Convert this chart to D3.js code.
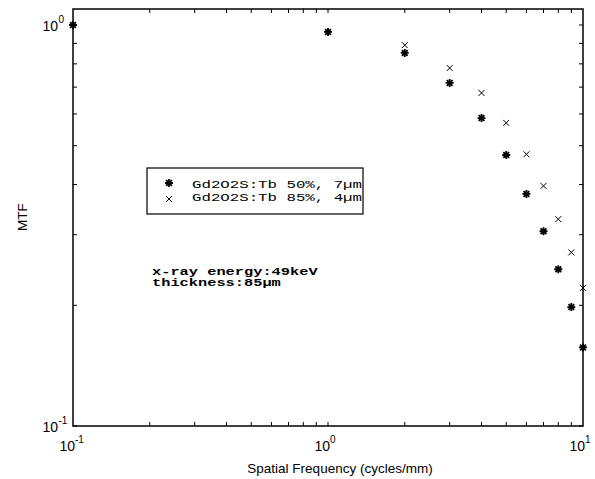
<!DOCTYPE html>
<html>
<head>
<meta charset="utf-8">
<script src="https://cdn.jsdelivr.net/npm/d3@7"></script>
<style>
  body { margin: 0; background: #fff; }
  text { font-family: "Liberation Sans", Arial, sans-serif; fill: #000; }
</style>
</head>
<body>
<div id="chart-area"></div>
<script>
/* MTF vs spatial frequency, log-log */

var freq = [0.1, 1, 2, 3, 4, 5, 6, 7, 8, 9, 10];
var mtf50 = [1.0, 0.961, 0.852, 0.717, 0.586, 0.474, 0.379, 0.306, 0.246, 0.198, 0.157];
var mtf85 = [1.0, 0.961, 0.891, 0.781, 0.677, 0.570, 0.476, 0.397, 0.328, 0.271, 0.221];
var seriesNames = ["Gd2O2S:Tb 50%, 7\u00b5m", "Gd2O2S:Tb 85%, 4\u00b5m"];
var xMajor = [0.1, 1, 10];
var xMajorExp = ["-1", "0", "1"];
var yMajor = [0.1, 1];
var yMajorExp = ["-1", "0"];
var notes = ["x-ray energy:49keV", "thickness:85\u00b5m"];

var W = 595, H = 479;
var pL = 73, pR = 583, pT = 9, pB = 426;

var svg = d3.select("#chart-area")
    .append("svg")
    .attr("width", W)
    .attr("height", H);

var x = d3.scaleLog().domain([0.1, 10]).range([pL, pR]);
var y = d3.scaleLog().domain([0.1, 1]).range([pB, 25]);

// minor + major tick values
var xTicks = [];
[0.1, 1].forEach(function(d) {
    for (var k = 1; k < 10; k++) xTicks.push(d * k);
});
var yTicks = [];
for (var k = 1; k <= 10; k++) yTicks.push(0.1 * k);

var tl = 4;
var ticks = svg.append("g").attr("stroke", "#000").attr("stroke-width", 1);
xTicks.forEach(function(v) {
    if (v <= 0.1) return;
    ticks.append("line").attr("x1", x(v)).attr("x2", x(v)).attr("y1", pB).attr("y2", pB - tl);
    ticks.append("line").attr("x1", x(v)).attr("x2", x(v)).attr("y1", pT).attr("y2", pT + tl);
});
yTicks.forEach(function(v) {
    ticks.append("line").attr("x1", pL).attr("x2", pL + tl).attr("y1", y(v)).attr("y2", y(v));
    ticks.append("line").attr("x1", pR).attr("x2", pR - tl).attr("y1", y(v)).attr("y2", y(v));
});

// frame
svg.append("rect")
    .attr("x", pL).attr("y", pT)
    .attr("width", pR - pL).attr("height", pB - pT)
    .attr("fill", "none").attr("stroke", "#000").attr("stroke-width", 1.5);

// tick labels
xMajor.forEach(function(v, i) {
    svg.append("text").attr("x", x(v) + 2).attr("y", 451)
        .attr("text-anchor", "end").attr("font-size", 14).text("10");
    svg.append("text").attr("x", x(v) + 2).attr("y", 443)
        .attr("font-size", 10).text(xMajorExp[i]);
});
yMajor.forEach(function(v, i) {
    svg.append("text").attr("x", 58).attr("y", y(v) + 6)
        .attr("text-anchor", "end").attr("font-size", 14).text("10");
    svg.append("text").attr("x", 58.5).attr("y", y(v) - 2)
        .attr("font-size", 10).text(yMajorExp[i]);
});

// axis titles
svg.append("text").attr("x", 340).attr("y", 473)
    .attr("text-anchor", "middle").attr("font-size", 13.5)
    .text("Spatial Frequency (cycles/mm)");
svg.append("text")
    .attr("transform", "translate(27,217) rotate(-90)")
    .attr("text-anchor", "middle").attr("font-size", 13.5)
    .text("MTF");

// markers
function star(g, cx, cy) {
    var r = 4, d = r * 0.72;
    g.append("path")
        .attr("d", "M" + (cx - r) + "," + cy + "H" + (cx + r) +
            "M" + cx + "," + (cy - r) + "V" + (cy + r) +
            "M" + (cx - d) + "," + (cy - d) + "L" + (cx + d) + "," + (cy + d) +
            "M" + (cx - d) + "," + (cy + d) + "L" + (cx + d) + "," + (cy - d))
        .attr("stroke", "#000").attr("stroke-width", 1.8).attr("fill", "none");
}
function cross(g, cx, cy) {
    var r = 3;
    g.append("path")
        .attr("d", "M" + (cx - r) + "," + (cy - r) + "L" + (cx + r) + "," + (cy + r) +
            "M" + (cx - r) + "," + (cy + r) + "L" + (cx + r) + "," + (cy - r))
        .attr("stroke", "#000").attr("stroke-width", 1).attr("fill", "none");
}

var pts = svg.append("g");
freq.forEach(function(f, i) {
    cross(pts, x(f), y(mtf85[i]));
});
freq.forEach(function(f, i) {
    star(pts, x(f), y(mtf50[i]));
});

// legend
var lg = svg.append("g");
lg.append("rect").attr("x", 147).attr("y", 168).attr("width", 216).attr("height", 46)
    .attr("fill", "#fff").attr("stroke", "#000").attr("stroke-width", 1.2);
star(lg, 169, 183);
cross(lg, 169, 199);
seriesNames.forEach(function(s, i) {
    lg.append("text")
        .attr("x", 192).attr("y", 188 + i * 13)
        .style("font-family", "'Liberation Mono', monospace")
        .attr("font-size", 11.5)
        .attr("textLength", 170).attr("lengthAdjust", "spacingAndGlyphs")
        .text(s);
});

// annotation
notes.forEach(function(s, i) {
    svg.append("text")
        .attr("x", 152).attr("y", 275 + i * 10.5)
        .style("font-family", "'Liberation Mono', monospace")
        .attr("font-size", 10.5).attr("font-weight", "bold")
        .attr("textLength", s.length * 9.2).attr("lengthAdjust", "spacingAndGlyphs")
        .text(s);
});
</script>
</body>
</html>
